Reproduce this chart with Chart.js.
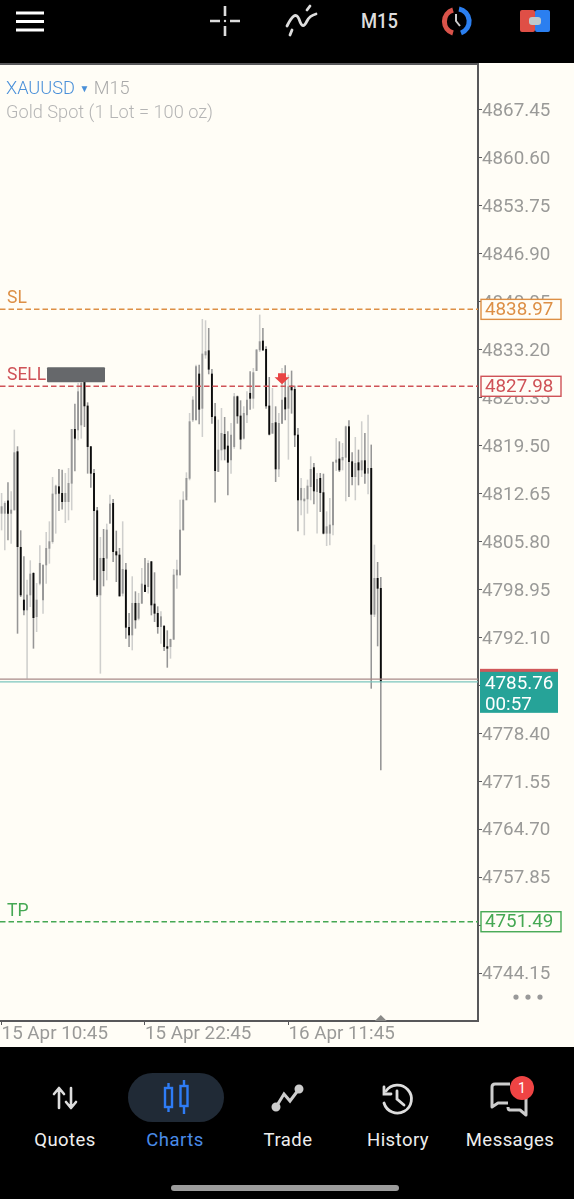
<!DOCTYPE html>
<html><head><meta charset="utf-8">
<script src="https://cdn.jsdelivr.net/npm/chart.js@4"></script>
<style>
html,body{margin:0;padding:0;background:#000;width:574px;height:1199px;overflow:hidden;font-family:Roboto,sans-serif}
#page{position:relative;width:574px;height:1199px;background:#000;overflow:hidden}
#chartwrap{position:absolute;left:0;top:63px;width:574px;height:984px;background:#FFFDF6}
canvas{display:block}
.abs{position:absolute;white-space:nowrap}
.nav{position:absolute;top:1129px;font-size:18.5px;line-height:22px;color:#eee;transform:translateX(-50%);letter-spacing:.45px}
svg{position:absolute;overflow:visible}
</style></head><body>
<div id="page">
<div id="chartwrap"><canvas id="c" width="574" height="984"></canvas></div>

<svg style="left:0;top:0" width="574" height="63" fill="none">
  <g stroke="#fff" stroke-width="3"><path d="M16 13H44M16 21.5H44M16 30H44"/></g>
  <g stroke="#ddd" stroke-width="2.6"><path d="M225 6V16M225 26V36M210 21H220M230 21H240"/></g>
  <circle cx="225" cy="21" r="1.2" fill="#ddd"/>
  <g stroke="#ddd" stroke-width="2.8" stroke-linecap="round"><path d="M287 26C292 16 296 12 299 19C302 28 304 27 307 21C309 17 312 15 316 14"/><path d="M290 35L292 30M307 10L310 6"/></g>
  <path d="M453 10A12 12 0 0 0 453 33" stroke="#D9534A" stroke-width="5"/>
  <path d="M459 9A12.5 12.5 0 0 1 461 33" stroke="#2B7FF0" stroke-width="5"/>
  <path d="M456 14V21L460 26" stroke="#ccc" stroke-width="2"/>
  <rect x="520" y="10" width="15" height="22" rx="2" fill="#DF4F46"/>
  <rect x="535" y="10" width="15" height="22" rx="2" fill="#2B7FF0"/>
  <rect x="529" y="17" width="12" height="8" rx="3" fill="#BFC9CC"/>
</svg>
<div class="abs" style="left:361px;top:9px;font-size:20px;font-weight:500;color:#ddd;line-height:24px;transform:scaleX(.92);transform-origin:left">M15</div>

<div class="abs" style="left:6px;top:77px;font-size:18.2px;font-weight:300;line-height:22px;color:#4A90D9">XAUUSD <span style="font-size:10px;vertical-align:2px">▼</span> <span style="color:#aaa">M15</span></div>
<div class="abs" style="left:6px;top:101px;font-size:18.2px;font-weight:300;line-height:22px;color:#b5b5b5">Gold Spot (1 Lot = 100 oz)</div>

<svg style="left:0;top:1047px" width="574" height="152" fill="none">
  <rect x="128" y="26" width="96" height="49" rx="24.5" fill="#202A36"/>
  <g stroke="#ddd" stroke-width="2.6" stroke-linecap="round" stroke-linejoin="round"><path d="M59 61V42M54 47L59 41L64 47M71 41V60M66 55L71 61L76 55"/></g>
  <g stroke="#2E7CF6" stroke-width="2.4"><rect x="165" y="41" width="7" height="19"/><rect x="180.5" y="39" width="7" height="20"/><path d="M168.5 36V41M168.5 60V65M184 33V39M184 59V67"/></g>
  <g stroke="#ccc" stroke-width="3" fill="#ccc"><path d="M276 60L284 47L290 54L299 42" fill="none"/><circle cx="276" cy="60" r="3"/><circle cx="299" cy="42" r="3"/></g>
  <g stroke="#ddd" stroke-width="2.8" stroke-linecap="round"><path d="M386 44A14 14 0 1 1 384 56"/><path d="M397 44V52L404 58"/><path d="M384 40V47H391"/></g>
  <g stroke="#ccc" stroke-width="3" stroke-linejoin="round"><path d="M510 37H495Q492 37 492 40V60L498 56H508"/><path d="M526 50V68L520 63H510Q508 63 508 60"/></g>
  <circle cx="522" cy="41" r="12" fill="#EF4444"/>
</svg>
<div class="abs" style="left:518px;top:1080px;font-size:14px;line-height:16px;color:#fff">1</div>
<div class="nav" style="left:65px">Quotes</div>
<div class="nav" style="left:175px;color:#4A8BE8">Charts</div>
<div class="nav" style="left:288px">Trade</div>
<div class="nav" style="left:398px">History</div>
<div class="nav" style="left:510px">Messages</div>
<div class="abs" style="left:171px;top:1185px;width:228px;height:6px;border-radius:3px;background:#9c9c9c"></div>
</div>

<script>
const tickPrices=[4867.45,4860.60,4853.75,4846.90,4840.05,4833.20,4826.35,4819.50,4812.65,4805.80,4798.95,4792.10,4785.25,4778.40,4771.55,4764.70,4757.85,4751.00,4744.15];
const hiddenTickPrices=[4785.25,4751.00];
const timeLabels=['15 Apr 10:45','15 Apr 22:45','16 Apr 11:45'];
const timeTickIndex=[0,45,90];
const slotCount=150;
const slPrice=4838.97, sellPrice=4827.98, tpPrice=4751.49, bidPrice=4785.76, askPrice=4786.16;
const highs=[4812.69,4811.50,4814.21,4812.93,4821.74,4819.36,4807.36,4803.64,4800.31,4803.07,
4801.36,4799.83,4805.21,4802.45,4807.12,4808.64,4814.98,4813.88,4816.12,4816.02,
4815.55,4816.26,4821.83,4825.45,4828.41,4828.64,4828.64,4825.64,4819.36,4816.12,
4810.69,4806.41,4807.55,4808.31,4812.45,4811.83,4807.31,4804.83,4808.64,4802.69,
4795.55,4800.79,4798.64,4798.41,4801.98,4803.41,4803.07,4802.93,4801.36,4796.50,
4795.79,4793.74,4793.07,4791.88,4801.83,4803.17,4811.74,4812.93,4815.64,4824.12,
4826.50,4831.02,4831.02,4837.55,4837.36,4836.26,4830.41,4825.55,4823.17,4824.83,
4823.55,4821.50,4822.69,4826.98,4826.60,4825.93,4825.07,4827.21,4830.07,4830.55,
4833.26,4838.17,4836.26,4833.64,4829.26,4827.69,4825.07,4824.12,4830.55,4830.93,
4829.60,4830.17,4828.02,4821.98,4814.83,4813.41,4814.60,4817.93,4816.98,4815.55,
4815.55,4815.45,4810.07,4811.98,4817.21,4820.55,4820.07,4819.83,4822.31,4823.07,
4818.50,4820.69,4818.88,4822.93,4821.26,4823.88,4819.60,4805.31,4802.83,4800.69];
const lows=[4807.45,4804.60,4806.02,4805.55,4810.31,4792.69,4797.93,4795.31,4786.26,4796.50,
4790.55,4792.93,4799.60,4795.55,4799.83,4802.69,4805.55,4806.98,4810.21,4810.41,
4808.50,4808.88,4810.31,4815.88,4820.31,4820.55,4822.21,4815.55,4813.55,4800.31,
4797.93,4786.98,4799.45,4800.31,4808.41,4802.93,4800.07,4798.02,4798.02,4791.98,
4790.79,4790.31,4793.41,4794.60,4796.98,4798.64,4798.41,4795.31,4794.36,4792.69,
4791.26,4790.21,4787.83,4789.12,4791.83,4799.12,4801.02,4807.45,4812.21,4814.60,
4822.93,4823.17,4822.60,4820.79,4831.98,4829.74,4822.69,4811.41,4815.79,4817.45,
4817.45,4812.45,4815.55,4819.12,4822.69,4819.02,4820.41,4822.79,4824.69,4824.83,
4830.21,4832.93,4833.07,4824.83,4821.02,4821.26,4814.36,4815.07,4822.69,4823.17,
4817.55,4824.12,4819.36,4807.31,4809.60,4806.74,4809.83,4811.74,4811.17,4806.98,
4810.07,4806.88,4805.21,4805.31,4806.74,4815.93,4815.79,4816.02,4811.60,4812.21,
4813.88,4811.74,4813.88,4815.07,4814.12,4812.60,4784.83,4795.07,4790.88,4773.17];
const opens=[4809.83,4809.83,4811.60,4809.83,4810.31,4818.64,4804.98,4797.45,4796.02,4798.17,
4801.26,4795.07,4799.83,4797.45,4802.45,4804.83,4805.79,4812.60,4813.64,4812.69,
4811.50,4811.50,4814.12,4821.83,4821.74,4822.45,4828.64,4825.17,4819.36,4815.55,
4810.21,4798.17,4803.41,4803.41,4808.41,4811.26,4804.36,4803.88,4798.41,4801.74,
4793.55,4792.45,4796.98,4794.83,4796.98,4799.60,4799.36,4802.93,4796.88,4795.55,
4793.64,4793.74,4790.79,4790.79,4791.83,4801.02,4801.02,4807.45,4811.74,4814.83,
4823.17,4823.17,4829.74,4824.83,4832.45,4833.07,4829.74,4823.64,4815.79,4818.88,
4821.12,4819.45,4817.45,4819.36,4826.50,4823.74,4820.55,4823.88,4826.98,4826.26,
4830.21,4833.17,4834.45,4833.26,4825.17,4821.26,4822.79,4816.17,4822.69,4826.36,
4824.83,4828.02,4827.55,4821.02,4811.74,4811.60,4811.88,4813.64,4816.36,4812.93,
4814.83,4812.79,4806.98,4806.98,4808.17,4817.12,4817.60,4817.45,4817.83,4822.21,
4817.21,4815.07,4817.07,4816.02,4817.36,4815.55,4816.26,4795.41,4800.55,4799.12];
const closes=[4810.79,4811.26,4809.83,4810.31,4818.50,4805.07,4798.17,4796.02,4798.17,4801.17,
4794.93,4797.45,4802.69,4802.45,4804.83,4805.79,4812.60,4813.74,4812.69,4811.50,
4812.69,4814.12,4821.83,4820.55,4827.21,4828.41,4825.17,4819.36,4815.55,4810.21,
4798.17,4803.41,4801.64,4807.45,4811.17,4804.36,4803.88,4798.02,4801.83,4793.55,
4792.45,4796.98,4794.60,4796.98,4799.74,4798.64,4802.69,4796.74,4795.55,4793.64,
4795.07,4790.79,4790.55,4791.83,4801.02,4801.74,4807.45,4811.74,4814.83,4822.93,
4826.02,4830.79,4824.69,4832.60,4832.93,4830.41,4823.64,4815.93,4818.88,4821.26,
4819.02,4817.12,4821.02,4826.50,4823.74,4820.41,4824.12,4826.02,4826.26,4829.93,
4833.17,4834.36,4833.17,4825.17,4821.12,4822.69,4816.17,4822.69,4826.02,4824.74,
4827.93,4827.45,4821.02,4811.74,4813.41,4811.88,4813.74,4816.12,4813.02,4814.69,
4812.79,4806.98,4807.93,4808.17,4817.12,4817.45,4816.02,4817.83,4822.21,4817.21,
4815.07,4816.98,4816.02,4817.36,4815.55,4816.26,4795.41,4800.55,4799.12,4785.76];

const cream='#FFFDF6', axisCol='#58585A', labelCol='#9a9a98';
const tickFont={family:'Roboto',size:18.8};
const categories=Array.from({length:slotCount},(_,i)=>{const k=timeTickIndex.indexOf(i);return k>=0?timeLabels[k]:'';});
const isDown=opens.map((o,i)=>closes[i]<o);

const overlay={id:'overlay',
 afterLayout(chart){
  // nudge axis labels to the reference's baseline
  const shift=(ax,dy)=>{const d=ax.drawLabels;ax.drawLabels=function(ca){const c=this.ctx;c.save();c.translate(0,dy);d.call(this,ca);c.restore();};};
  shift(chart.scales.y,1.5);shift(chart.scales.x,-2.5);
 },
 afterDraw(chart){
  const {ctx,chartArea:a,scales:{x,y}}=chart;
  ctx.save();
  ctx.strokeStyle=axisCol;ctx.lineWidth=2;
  ctx.beginPath();ctx.moveTo(a.left,a.top);ctx.lineTo(a.right+1,a.top);ctx.stroke();
  // bid/ask
  ctx.lineWidth=1.3;
  ctx.strokeStyle='#A88A88';ctx.beginPath();ctx.moveTo(0,y.getPixelForValue(askPrice));ctx.lineTo(a.right,y.getPixelForValue(askPrice));ctx.stroke();
  ctx.strokeStyle='#7CC6BE';ctx.beginPath();ctx.moveTo(0,y.getPixelForValue(bidPrice));ctx.lineTo(a.right,y.getPixelForValue(bidPrice));ctx.stroke();
  // trade levels
  const levels=[[slPrice,'SL','#DD8F45'],[sellPrice,'SELL','#CF5257'],[tpPrice,'TP','#45A853']];
  ctx.textBaseline='middle';
  for(const [v,name,col] of levels){
   const py=y.getPixelForValue(v);
   ctx.strokeStyle=col;ctx.lineWidth=1.5;ctx.setLineDash([5.5,3]);
   ctx.beginPath();ctx.moveTo(0,py);ctx.lineTo(a.right,py);ctx.stroke();ctx.setLineDash([]);
   ctx.fillStyle=col;ctx.textAlign='left';ctx.font='17.5px Roboto';
   ctx.fillText(name,7,py-10.5);
   ctx.fillStyle=cream;ctx.fillRect(481,py-10,80,20);
   ctx.strokeStyle=col;ctx.lineWidth=1.4;ctx.strokeRect(481,py-10,80,20);
   ctx.fillStyle=col;ctx.font='18.8px Roboto';
   ctx.fillText(v.toFixed(2),485,py+1);
  }
  // SELL arrow on its bar
  const sx=x.getPixelForValue(88), tip=y.getPixelForValue(sellPrice)-2;
  ctx.fillStyle='#E94444';ctx.beginPath();
  ctx.moveTo(sx,tip);ctx.lineTo(sx-7.5,tip-7);ctx.lineTo(sx-4,tip-7);ctx.lineTo(sx-4,tip-11);ctx.lineTo(sx+4,tip-11);ctx.lineTo(sx+4,tip-7);ctx.lineTo(sx+7.5,tip-7);ctx.closePath();ctx.fill();
  // object tag beside SELL
  const by=y.getPixelForValue(sellPrice);
  ctx.fillStyle='#66686B';ctx.beginPath();ctx.roundRect(47,by-19,58,15,1);ctx.fill();
  // current price box
  const cy=y.getPixelForValue(bidPrice);
  ctx.fillStyle='#D0585A';ctx.fillRect(480,cy-13,78,4);
  ctx.fillStyle='#26A398';ctx.fillRect(480,cy-10,78,41);
  ctx.fillStyle='#fff';ctx.font='18.8px Roboto';ctx.textAlign='left';
  ctx.fillText(bidPrice.toFixed(2),485,cy+2);ctx.fillText('00:57',485,cy+23);
  // last-bar marker on the time axis
  const mx=x.getPixelForValue(119);
  ctx.fillStyle='#8a8a88';ctx.beginPath();ctx.moveTo(mx-6,a.bottom);ctx.lineTo(mx,a.bottom-6);ctx.lineTo(mx+6,a.bottom);ctx.closePath();ctx.fill();
  // scroll dots
  ctx.fillStyle='#999';
  for(const dx of [516,528,540]){ctx.beginPath();ctx.arc(dx,y.getPixelForValue(4740.73),2.6,0,7);ctx.fill();}
  ctx.restore();
 }};

new Chart(document.getElementById('c'),{
 type:'bar',
 data:{labels:categories,datasets:[
  {label:'Body',data:opens.map((o,i)=>[o,closes[i]]),grouped:false,order:1,barThickness:1.25,
   backgroundColor:isDown.map(d=>d?'#0c0c0c':'#969696'),borderWidth:0},
  {label:'Wick',data:lows.map((l,i)=>[l,highs[i]]),grouped:false,order:2,barThickness:0.9,
   backgroundColor:isDown.map(d=>d?'#969696':'#cfcfcd'),borderWidth:0}
 ]},
 options:{responsive:false,animation:false,devicePixelRatio:1,
  layout:{padding:{top:1,left:0,right:0,bottom:0}},
  plugins:{legend:{display:false},tooltip:{enabled:false}},
  scales:{
   x:{type:'category',offset:true,
     grid:{offset:false,drawOnChartArea:false,drawTicks:true,tickLength:4,tickColor:axisCol},
     border:{color:axisCol,width:2},
     ticks:{autoSkip:false,maxRotation:0,minRotation:0,align:'start',padding:1,color:labelCol,font:tickFont,
       callback(v){return this.getLabelForValue(v);}},
     afterBuildTicks(ax){ax.ticks=timeTickIndex.map(v=>({value:v}));},
     afterFit(ax){ax.height=26;}},
   y:{type:'linear',position:'right',min:4737.31,max:4874.02,
     grid:{drawOnChartArea:false,drawTicks:true,tickLength:4,tickColor:axisCol},
     border:{color:axisCol,width:2},
     ticks:{padding:0,autoSkip:false,color:labelCol,font:tickFont,
       callback(v){return hiddenTickPrices.includes(v)?'':v.toFixed(2);}},
     afterBuildTicks(ax){ax.ticks=tickPrices.map(v=>({value:v}));},
     afterFit(ax){ax.width=96;ax.paddingTop=0;ax.paddingBottom=0;}}
  }},
 plugins:[overlay]
});
</script>
</body></html>
